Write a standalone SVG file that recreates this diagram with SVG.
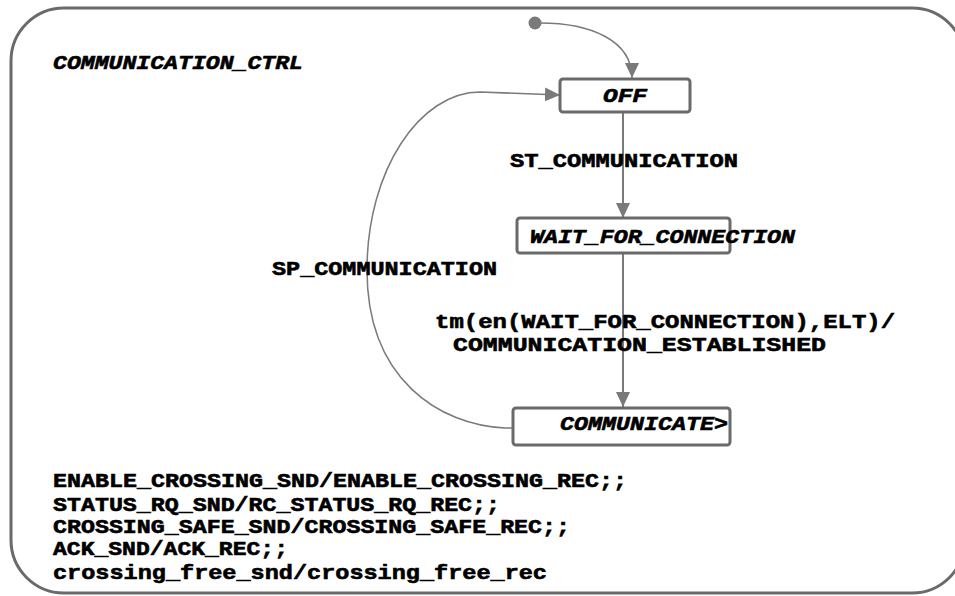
<svg xmlns="http://www.w3.org/2000/svg" width="955" height="596" viewBox="0 0 955 596">
<style>
  .frame { fill: #ffffff; stroke: #6a6a6a; stroke-width: 3; }
  .state { fill: #ffffff; stroke: #6a6a6a; stroke-width: 3; }
  .conn { fill: none; stroke: #7a7a7a; stroke-width: 2; }
  .thin { fill: none; stroke: #7a7a7a; stroke-width: 1.5; }
  .lbl { font-family: "Liberation Mono", "DejaVu Sans Mono", monospace; font-weight: bold; font-size: 20px; fill: #000; stroke: #000; stroke-width: 0.6; }
  .it { font-style: italic; }
</style>
<defs>
  <marker id="arr" markerUnits="userSpaceOnUse" markerWidth="15" markerHeight="14" refX="15" refY="7" orient="auto">
    <path d="M0,0 L15,7 L0,14 z" fill="#7a7a7a"/>
  </marker>
</defs>
<rect width="955" height="596" fill="#ffffff"/>
<g id="frame">
  <rect class="frame" x="11" y="8" width="954" height="585" rx="53" ry="53"/>
  <text class="lbl it" x="53" y="69" textLength="250" lengthAdjust="spacingAndGlyphs">COMMUNICATION_CTRL</text>
</g>
<g id="connectors">
  <circle cx="535" cy="23" r="6.5" fill="#7a7a7a"/>
  <path class="thin" d="M540,23 C590,23 632,40 632,78" marker-end="url(#arr)"/>
  <path class="conn" d="M623,112 L623,218" marker-end="url(#arr)"/>
  <path class="conn" d="M623,253 L623,407" marker-end="url(#arr)"/>
  <path class="thin" d="M513,428 L505,428 C440,425 367,380 367,270 C367,170 420,92 480,92 L560,95" marker-end="url(#arr)"/>
  <text class="lbl" x="510" y="167" textLength="228" lengthAdjust="spacingAndGlyphs">ST_COMMUNICATION</text>
  <text class="lbl" x="272" y="275" textLength="225" lengthAdjust="spacingAndGlyphs">SP_COMMUNICATION</text>
  <text class="lbl" x="435" y="328" textLength="460" lengthAdjust="spacingAndGlyphs">tm(en(WAIT_FOR_CONNECTION),ELT)/</text>
  <text class="lbl" x="453" y="351" textLength="373" lengthAdjust="spacingAndGlyphs">COMMUNICATION_ESTABLISHED</text>
</g>
<g id="OFF">
  <rect class="state" x="560" y="79" width="130" height="33" rx="3"/>
  <text class="lbl it" x="603" y="102" textLength="44" lengthAdjust="spacingAndGlyphs">OFF</text>
</g>
<g id="WAIT_FOR_CONNECTION">
  <rect class="state" x="517" y="218" width="213" height="35" rx="3"/>
  <text class="lbl it" x="530" y="243" textLength="265" lengthAdjust="spacingAndGlyphs">WAIT_FOR_CONNECTION</text>
</g>
<g id="COMMUNICATE">
  <rect class="state" x="513" y="408" width="217" height="37" rx="3"/>
  <text class="lbl it" x="560" y="430" textLength="168" lengthAdjust="spacingAndGlyphs">COMMUNICATE&gt;</text>
</g>
<g id="actions">
  <text class="lbl" x="53" y="487" textLength="574" lengthAdjust="spacingAndGlyphs">ENABLE_CROSSING_SND/ENABLE_CROSSING_REC;;</text>
  <text class="lbl" x="53" y="511" textLength="447" lengthAdjust="spacingAndGlyphs">STATUS_RQ_SND/RC_STATUS_RQ_REC;;</text>
  <text class="lbl" x="53" y="533" textLength="517" lengthAdjust="spacingAndGlyphs">CROSSING_SAFE_SND/CROSSING_SAFE_REC;;</text>
  <text class="lbl" x="53" y="555" textLength="235" lengthAdjust="spacingAndGlyphs">ACK_SND/ACK_REC;;</text>
  <text class="lbl" x="53" y="579" textLength="494" lengthAdjust="spacingAndGlyphs">crossing_free_snd/crossing_free_rec</text>
</g>
</svg>
